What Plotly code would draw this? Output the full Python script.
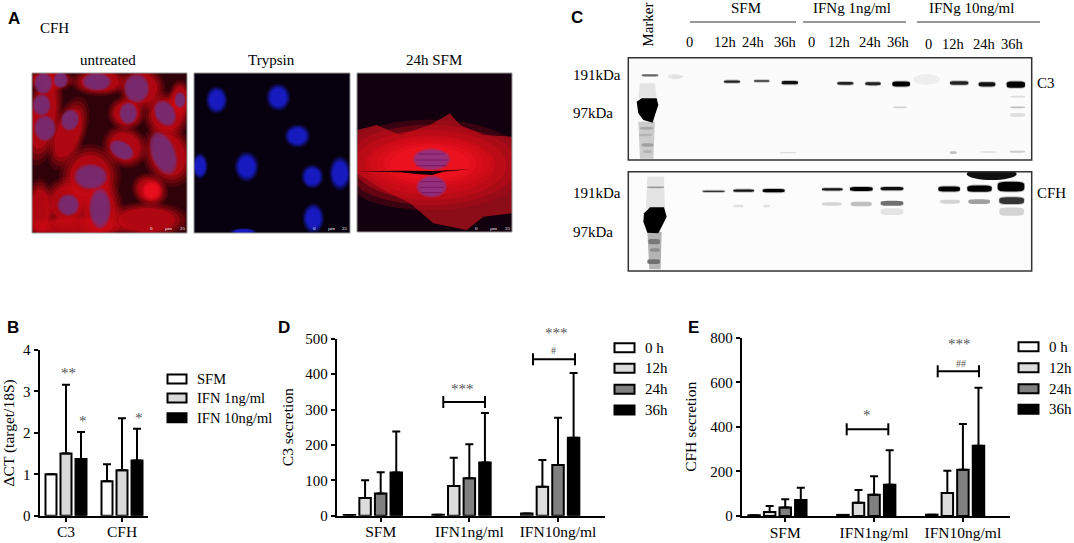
import math
import plotly.graph_objects as go

W = 1074
H = 543
SERIF = "Liberation Serif"
SANS = "Liberation Sans"

# Panel B
b_groups = ["C3", "CFH"]
b_names = ["SFM", "IFN 1ng/ml", "IFN 10ng/ml"]
b_values = [[1.0, 0.83], [1.5, 1.1], [1.37, 1.33]]
b_errors = [[0, 0.41], [1.66, 1.25], [0.65, 0.77]]
b_ticks = [0, 1, 2, 3, 4]

# Panel D
d_groups = ["SFM", "IFN1ng/ml", "IFN10ng/ml"]
time_names = ["0 h", "12h", "24h", "36h"]
d_values = [[2, 3, 6], [50, 84, 82], [63, 106, 143], [122, 150, 220]]
d_errors = [[0, 0, 0], [50, 80, 75], [60, 96, 134], [116, 140, 183]]
d_ticks = [0, 100, 200, 300, 400, 500]

# Panel E
e_groups = ["SFM", "IFN1ng/ml", "IFN10ng/ml"]
e_values = [[3, 5, 6], [18, 60, 103], [38, 95, 207], [72, 140, 315]]
e_errors = [[0, 0, 0], [27, 57, 100], [37, 83, 206], [55, 155, 260]]
e_ticks = [0, 200, 400, 600, 800]

b_colors = ["white", "#d9d9d9", "black"]
time_colors = ["white", "#dcdcdc", "#808080", "black"]

# Panel C labels
lanes_top = ["0", "12h", "24h", "36h", "0", "12h", "24h", "36h", "0", "12h", "24h", "36h"]
treatments = ["SFM", "IFNg 1ng/ml", "IFNg 10ng/ml"]


def px(x):
    return x / W


def py(y):
    return 1 - y / H


fig = go.Figure()
shapes = []
notes = []


def text(x, y, s, size=15, anchor="center", font=SERIF, angle=0, color="black", bold=False):
    if bold:
        s = "<b>" + s + "</b>"
    notes.append(dict(x=px(x), y=py(y), xref="paper", yref="paper", text=s, showarrow=False,
                      xanchor=anchor, yanchor="middle", textangle=angle, borderpad=0, borderwidth=0,
                      font=dict(family=font, size=size, color=color)))


def polygon(pts, color, opacity=1.0):
    path = "M" + "L".join(f"{px(x):.5f},{py(y):.5f}" for x, y in pts) + "Z"
    shapes.append(dict(type="path", path=path, xref="paper", yref="paper", fillcolor=color,
                       opacity=opacity, line=dict(width=0)))


def ellipse(cx, cy, rx, ry, color, rot=0, opacity=1.0, box=None, power=2.0):
    # rotated (super)ellipse in pixel coordinates, clamped to its image
    pts = []
    a = math.radians(rot)
    e = 2.0 / power
    for i in range(36):
        t = 2 * math.pi * i / 36
        ct, st = math.cos(t), math.sin(t)
        ux = math.copysign(abs(ct) ** e, ct) * rx
        uy = math.copysign(abs(st) ** e, st) * ry
        x = cx + ux * math.cos(a) - uy * math.sin(a)
        y = cy + ux * math.sin(a) + uy * math.cos(a)
        if box:
            x = min(max(x, box[0]), box[1])
            y = min(max(y, box[2]), box[3])
        pts.append((x, y))
    polygon(pts, color, opacity)


def soft(cx, cy, rx, ry, color, rot=0, box=None, layers=((1.3, 0.2), (1.15, 0.3), (1.0, 0.45), (0.85, 0.6))):
    # stacked translucent ellipses stand in for the blurred edge of a cell
    for scale, op in layers:
        ellipse(cx, cy, rx * scale, ry * scale, color, rot, op, box)


def rect(x0, x1, y0, y1, fill, line=None, lw=1.0):
    shapes.append(dict(type="rect", xref="paper", yref="paper", x0=px(x0), x1=px(x1),
                       y0=py(y1), y1=py(y0), fillcolor=fill,
                       line=dict(color=line or fill, width=lw if line else 0)))


def hline(x0, x1, y, color="black", lw=2.0):
    shapes.append(dict(type="line", xref="paper", yref="paper", x0=px(x0), x1=px(x1),
                       y0=py(y), y1=py(y), line=dict(color=color, width=lw)))


def vline(x, y0, y1, color="black", lw=2.0):
    shapes.append(dict(type="line", xref="paper", yref="paper", x0=px(x), x1=px(x),
                       y0=py(y0), y1=py(y1), line=dict(color=color, width=lw)))


def add_bars(values, errors, groups, names, colors, axis, step, width, first):
    for i, name in enumerate(names):
        fig.add_trace(go.Bar(x=groups, y=values[i], name=name, xaxis="x" + axis, yaxis="y" + axis,
                             width=width, offset=(first + i) * step - width / 2,
                             marker=dict(color=colors[i], line=dict(color="black", width=2)),
                             error_y=dict(type="data", symmetric=False, array=errors[i],
                                          arrayminus=[0] * len(groups), thickness=2, width=4,
                                          color="black"),
                             showlegend=False, cliponaxis=False))


add_bars(b_values, b_errors, b_groups, b_names, b_colors, "", 15 / 56, 11 / 56, -1)
add_bars(d_values, d_errors, d_groups, time_names, time_colors, "2", 15.6 / 88.7, 11.5 / 88.7, -2)
add_bars(e_values, e_errors, e_groups, time_names, time_colors, "3", 15.6 / 89, 11.5 / 89, -2)


def axes(x0, x1, y0, y1, x_range, y_range, y_ticks, title, anchor, standoff):
    xa = dict(domain=[px(x0), px(x1)], range=x_range, type="category", showgrid=False,
              showline=True, linecolor="black", linewidth=2, ticks="outside", ticklen=4, tickwidth=2,
              tickcolor="black", tickfont=dict(family=SERIF, size=15.5, color="black"),
              anchor="y" + anchor, zeroline=False, automargin=False, ticklabelstandoff=-3)
    ya = dict(domain=[py(y0), py(y1)], range=y_range, tickvals=y_ticks, showgrid=False,
              showline=True, linecolor="black", linewidth=2, ticks="outside", ticklen=4, tickwidth=2,
              tickcolor="black", tickfont=dict(family=SERIF, size=15, color="black"),
              anchor="x" + anchor, zeroline=False, automargin=False,
              title=dict(text=title, font=dict(family=SERIF, size=15.5, color="black"), standoff=standoff))
    return xa, ya


xa1, ya1 = axes(39.5, 148, 515.7, 350, [-0.473, 1.464], [0, 4], b_ticks, "ΔCT (target/18S)", "", 5)
xa2, ya2 = axes(336.7, 605, 515.7, 338.7, [-0.496, 2.53], [0, 500], d_ticks, "C3 secretion", "2", 8)
xa3, ya3 = axes(741.7, 1010, 516, 337.7, [-0.49, 2.53], [0, 800], e_ticks, "CFH secretion", "3", 10)

# legends, drawn by hand for the wide swatches
for y, name, color in zip([379, 398, 417.7], b_names, b_colors):
    rect(167.5, 186.5, y - 4.5, y + 4.5, color, "black", 2)
    text(197, y, name, 14.5, "left")
for y, name, color in zip([347.7, 368.3, 389.3, 410], time_names, time_colors):
    rect(614.5, 634.5, y - 4.5, y + 4.5, color, "black", 2)
    text(645, y, name, 15, "left")
for y, name, color in zip([346.7, 367.7, 388.7, 409.3], time_names, time_colors):
    rect(1018.5, 1038.5, y - 4.5, y + 4.5, color, "black", 2)
    text(1049, y, name, 15, "left")


def bracket(x0, x1, y):
    hline(x0, x1, y)
    vline(x0, y - 6, y + 6)
    vline(x1, y - 6, y + 6)


bracket(443.3, 485, 402)
bracket(533, 575, 359.3)
bracket(846.7, 888.3, 429.3)
bracket(937.7, 979, 371.3)

STAR = "#555555"
text(68, 373, "**", 15, color=STAR)
text(83.3, 421, "*", 15, color=STAR)
text(139.3, 418, "*", 15, color=STAR)
text(462, 389, "***", 15, color=STAR)
text(556, 333, "***", 15, color=STAR)
text(553.7, 350, "#", 10, color=STAR)
text(867, 415, "*", 15, color=STAR)
text(960, 344, "***", 15, color=STAR)
text(961, 363, "##", 10, color=STAR)

# panel letters
for x, y, s in [(14, 18, "A"), (13, 327, "B"), (577, 17, "C"), (284, 327, "D"), (693, 327, "E")]:
    text(x, y, s, 17, font=SANS, bold=True)

# Panel A
text(40, 28, "CFH", 15, "left")
for x, s in [(108, "untreated"), (271, "Trypsin"), (434, "24h SFM")]:
    text(x, 60, s, 15)


def z(v):
    return v / 3


box1 = (32, 187, 73, 233)
box2 = (194, 350, 73, 233)
box3 = (357, 512, 73, 232)
rect(*box1[:2], *box1[2:], "#2e0208")
rect(*box2[:2], *box2[2:], "#07000e")
rect(*box3[:2], *box3[2:], "#12000e")

cells = [(130, 350, 40, 110, 10), (205, 400, 38, 85, 20), (150, 240, 55, 25, 0), (300, 245, 65, 32, 0),
         (425, 265, 52, 50, 0), (380, 340, 42, 38, 0), (500, 345, 52, 52, 30), (375, 440, 52, 46, 30),
         (505, 465, 56, 72, -20), (450, 570, 42, 36, 30), (270, 530, 68, 72, 0), (200, 610, 52, 58, 0),
         (300, 630, 52, 72, 0), (230, 680, 125, 25, 0), (440, 660, 95, 40, 0), (540, 300, 25, 45, 0),
         (120, 630, 30, 70, 0)]
nuclei = [(135, 385, 30, 36, 0), (125, 315, 25, 30, 0), (210, 360, 25, 30, 15), (130, 250, 25, 30, 0),
          (182, 240, 20, 22, 0), (290, 245, 40, 25, 0), (410, 265, 35, 40, 0), (385, 340, 25, 30, 0),
          (495, 340, 28, 38, -30), (365, 450, 36, 24, 30), (490, 460, 34, 62, -20), (272, 530, 46, 35, 0),
          (205, 615, 30, 30, 0), (300, 625, 30, 56, 0), (540, 300, 15, 22, 0)]
for c in cells:
    soft(z(c[0]), z(c[1]), z(c[2]) * 1.05, z(c[3]) * 1.05, "#cc0a14", c[4], box1,
         layers=((1.3, 0.18), (1.15, 0.25), (1.0, 0.35), (0.85, 0.55)))
for c in nuclei:
    soft(z(c[0]), z(c[1]), z(c[2]), z(c[3]), "#6a3488", c[4], box1,
         layers=((1.1, 0.3), (1.0, 0.45), (0.85, 0.45)))
soft(z(455), z(572), z(24), z(24), "#f01020", 30, box1)

for c in [(650, 300, 25, 32), (835, 292, 28, 32), (892, 408, 30, 27), (740, 500, 28, 35), (600, 498, 18, 30),
          (937, 530, 26, 28), (1020, 520, 25, 40), (940, 655, 25, 35), (730, 695, 30, 8)]:
    soft(z(c[0]), z(c[1]), z(c[2]), z(c[3]), "#1a20d8", 0, box2)

outline = [(1072, 390), (1130, 375), (1200, 405), (1290, 375), (1350, 340), (1380, 375), (1450, 405), (1536, 410),
           (1536, 640), (1450, 650), (1400, 690), (1300, 670), (1230, 610), (1150, 570), (1072, 520)]
polygon([(z(x), z(y)) for x, y in outline], "#8c0c18")
soft(z(1290), z(495), z(230), z(105), "#d00c18", 0, box3)
soft(z(1290), z(490), z(140), z(60), "#f01220", 0, box3)
soft(z(1295), z(478), z(52), z(30), "#8c3488", 0, box3, layers=((1.1, 0.4), (1.0, 0.6), (0.85, 0.6)))
soft(z(1295), z(560), z(42), z(30), "#8c3488", 0, box3, layers=((1.1, 0.4), (1.0, 0.6), (0.85, 0.6)))
for y, x0, x1 in [(462, 1255, 1335), (480, 1245, 1345), (497, 1250, 1340), (545, 1260, 1330), (562, 1258, 1332),
                  (578, 1265, 1325)]:
    hline(z(x0), z(x1), z(y), "#7c1860", 1)
slit = [(1075, 514), (1200, 512), (1295, 513), (1410, 508), (1330, 515), (1295, 525), (1250, 522), (1200, 517)]
polygon([(z(x), z(y)) for x, y in slit], "#100004")

# thin grey frame on top of the micrographs
for bb in (box1, box2, box3):
    shapes.append(dict(type="rect", xref="paper", yref="paper", x0=px(bb[0]), x1=px(bb[1]),
                       y0=py(bb[3]), y1=py(bb[2]), line=dict(color="#999999", width=1)))

for x0 in [455 / 3, 942 / 3, 1430 / 3]:
    text(x0, 228.5, "0", 5, color="white")
    text(x0 + 17, 228.5, "µm", 5, color="white")
    text(x0 + 31, 228.5, "25", 5, color="white")

# Panel C
text(647.7, 25, "Marker", 15, angle=-90)
for x, s in zip([746, 851.7, 971.7], treatments):
    text(x, 8, s, 15)
hline(690, 796, 22, "#333333", 1)
hline(803, 906, 22, "#333333", 1)
hline(917, 1040, 22, "#333333", 1)
lane_x = [388, 497, 580, 675, 753, 838, 932, 1015, 1105, 1180, 1273, 1358]
for i, (x, s) in enumerate(zip(lane_x, lanes_top)):
    text(560 + x / 3, 41.7 if i < 8 else 43.7, s, 14.5)
for y, s in [(75, "191kDa"), (113, "97kDa"), (193, "191kDa"), (232, "97kDa")]:
    text(572.7, y, s, 15, "left")
text(1037, 82.7, "C3", 15, "left")
text(1037, 193, "CFH", 15, "left")

blot1 = (628.3, 1031.7, 57.7, 160)
blot2 = (628.3, 1031.7, 171.7, 271)
rect(*blot1[:2], *blot1[2:], "#fbfbfb")
rect(*blot2[:2], *blot2[2:], "#fcfcfc")


def band(x0, x1, y, h, color):
    # zoom coordinates of the C panel
    cx = 560 + (x0 + x1) / 6
    rx = (x1 - x0) / 6
    ry = h / 6
    if color in ("black", "#111111", "#222222", "#333333"):
        ellipse(cx, y / 3, rx * 1.05, ry + 1, "#888888", 0, 0.5, None, 4)
    ellipse(cx, y / 3, rx, ry, color, 0, 1, None, 4)


def blob(cx, cy, rx, ry, color, box):
    ellipse(560 + cx / 3, cy / 3, rx / 3, ry / 3, color, 0, 1, box)


def zpoly(pts, color):
    polygon([(560 + x / 3, y / 3) for x, y in pts], color)


# top blot
blob(345, 230, 22, 8, "#e8e8e8", blot1)
blob(1100, 238, 40, 16, "#eeeeee", blot1)
zpoly([(240, 250), (285, 250), (290, 295), (235, 295)], "#e4e4e4")
zpoly([(235, 365), (285, 365), (280, 476), (240, 476)], "#cccccc")
for b in [(240, 280, 385, 8, "#a8a8a8"), (238, 275, 405, 8, "#b4b4b4"), (245, 280, 435, 10, "#a0a0a0"),
          (250, 275, 455, 8, "#b0b0b0")]:
    band(*b)
band(245, 295, 226, 7, "#666666")
zpoly([(230, 305), (245, 295), (290, 295), (295, 315), (285, 345), (278, 368), (250, 360), (235, 340)], "black")
for b in [(335, 370, 230, 5, "#e0e0e0"), (1000, 1040, 322, 5, "#d0d0d0"), (1350, 1395, 322, 5, "#c0c0c0"),
          (1350, 1395, 345, 12, "#e0e0e0"), (1350, 1395, 455, 6, "#cccccc"), (1170, 1190, 458, 8, "#c0c0c0"),
          (660, 710, 458, 4, "#dddddd"), (1260, 1310, 456, 4, "#dcdcdc"), (1350, 1395, 290, 5, "#dcdcdc"),
          (492, 540, 245, 7, "#222222"), (582, 628, 243, 5, "#333333"), (665, 714, 248, 10, "#111111"),
          (832, 880, 250, 8, "#222222"), (916, 962, 251, 9, "#222222"), (997, 1050, 252, 15, "black"),
          (1170, 1225, 249, 11, "#222222"), (1256, 1306, 253, 13, "#111111"), (1340, 1395, 254, 19, "black")]:
    band(*b)

# bottom blot
zpoly([(262, 530), (312, 530), (315, 625), (258, 625)], "#e4e4e4")
zpoly([(262, 695), (305, 695), (302, 808), (268, 808)], "#b4b4b4")
for b in [(265, 300, 725, 16, "#787878"), (270, 300, 750, 10, "#8c8c8c"), (262, 300, 785, 14, "#707070")]:
    band(*b)
band(262, 312, 562, 5, "#999999")
zpoly([(252, 640), (270, 622), (312, 622), (320, 650), (305, 680), (295, 700), (262, 698), (250, 665)], "black")
blob(1295, 522, 75, 18, "#111111", blot2)
for b in [(786, 845, 612, 10, "#d4d4d4"), (872, 935, 612, 14, "#c0c0c0"), (962, 1030, 610, 15, "#707070"),
          (1140, 1200, 605, 12, "#d4d4d4"), (1225, 1290, 605, 14, "#a0a0a0"), (1318, 1392, 602, 20, "#333333"),
          (520, 550, 618, 8, "#e0e0e0"), (610, 630, 618, 8, "#e0e0e0"), (962, 1030, 635, 20, "#e4e4e4"),
          (1318, 1392, 635, 25, "#d4d4d4"),
          (428, 494, 574, 4, "#333333"), (520, 582, 572, 7, "#111111"), (608, 674, 572, 10, "black"),
          (786, 848, 568, 7, "#111111"), (870, 938, 567, 12, "black"), (962, 1030, 566, 10, "#111111"),
          (1135, 1200, 567, 15, "black"), (1222, 1295, 566, 19, "black"), (1313, 1393, 560, 29, "black")]:
    band(*b)

# blot frames go on top
for bb in (blot1, blot2):
    shapes.append(dict(type="rect", xref="paper", yref="paper", x0=px(bb[0]), x1=px(bb[1]),
                       y0=py(bb[3]), y1=py(bb[2]), line=dict(color="#333333", width=1.5)))

fig.update_layout(width=W, height=H, margin=dict(l=0, r=0, t=0, b=0), paper_bgcolor="white",
                  plot_bgcolor="white", showlegend=False, barmode="overlay",
                  xaxis=xa1, yaxis=ya1, xaxis2=xa2, yaxis2=ya2, xaxis3=xa3, yaxis3=ya3,
                  shapes=shapes, annotations=notes)

fig.write_html("out.html", config={"displayModeBar": False}, post_script="document.body.style.margin='0';")
